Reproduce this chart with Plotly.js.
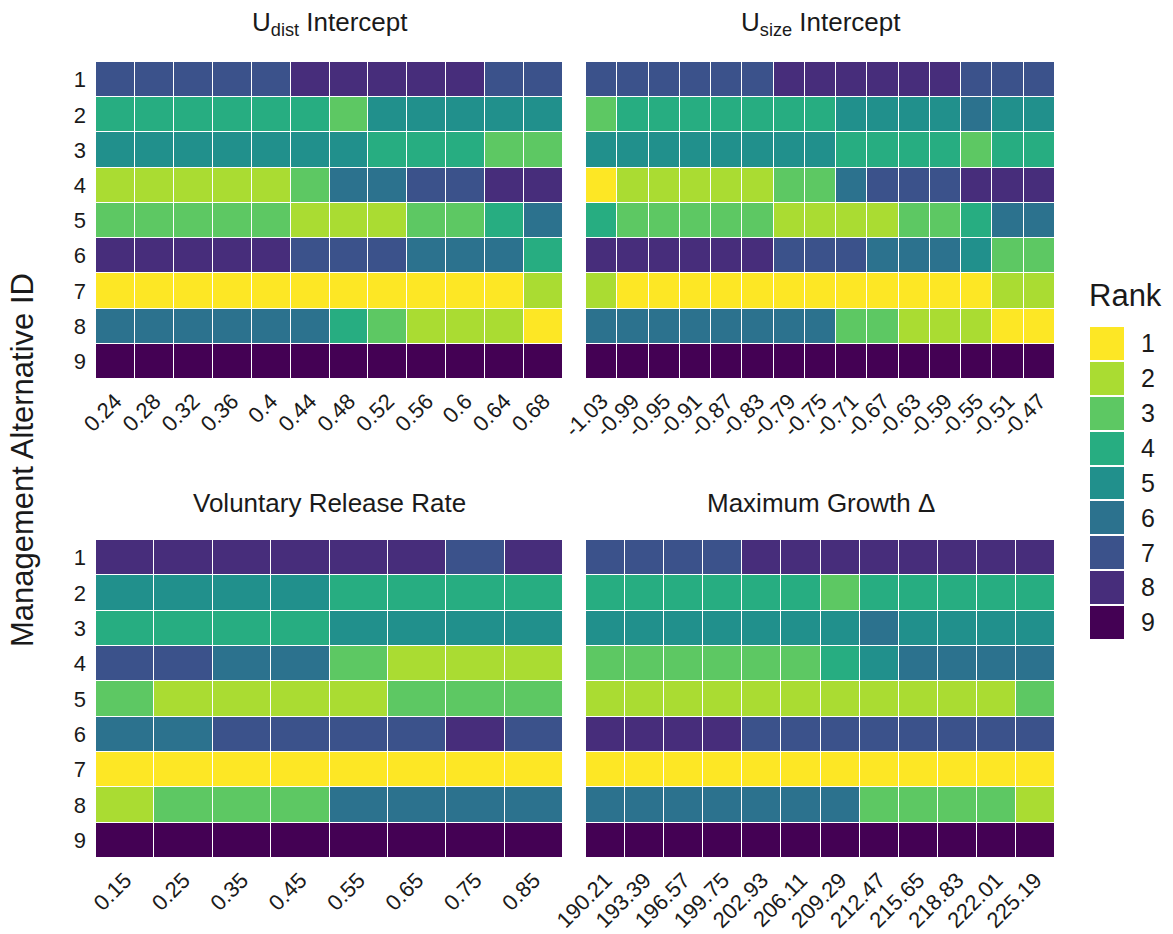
<!DOCTYPE html>
<html>
<head>
<meta charset="utf-8">
<script src="https://cdn.plot.ly/plotly-3.0.1.min.js"></script>
<style>html,body{margin:0;padding:0;background:#fff;}#chart{width:1173px;height:934px;}</style>
</head>
<body>
<div id="chart"></div>
<script>
// ---- data ----
const altIds = ["1","2","3","4","5","6","7","8","9"];
const rankLevels = [1,2,3,4,5,6,7,8,9];
const rankColors = ["#FDE725","#AADC32","#5DC863","#27AD81","#21908C","#2C728E","#3B528B","#472D7B","#440154"];

const udistX = ["0.24","0.28","0.32","0.36","0.4","0.44","0.48","0.52","0.56","0.6","0.64","0.68"];
const udistRanks = [
  [7,7,7,7,7,8,8,8,8,8,7,7],
  [4,4,4,4,4,4,3,5,5,5,5,5],
  [5,5,5,5,5,5,5,4,4,4,3,3],
  [2,2,2,2,2,3,6,6,7,7,8,8],
  [3,3,3,3,3,2,2,2,3,3,4,6],
  [8,8,8,8,8,7,7,7,6,6,6,4],
  [1,1,1,1,1,1,1,1,1,1,1,2],
  [6,6,6,6,6,6,4,3,2,2,2,1],
  [9,9,9,9,9,9,9,9,9,9,9,9]
];

const usizeX = ["-1.03","-0.99","-0.95","-0.91","-0.87","-0.83","-0.79","-0.75","-0.71","-0.67","-0.63","-0.59","-0.55","-0.51","-0.47"];
const usizeRanks = [
  [7,7,7,7,7,7,8,8,8,8,8,8,7,7,7],
  [3,4,4,4,4,4,4,4,5,5,5,5,6,5,5],
  [5,5,5,5,5,5,5,5,4,4,4,4,3,4,4],
  [1,2,2,2,2,2,3,3,6,7,7,7,8,8,8],
  [4,3,3,3,3,3,2,2,2,2,3,3,4,6,6],
  [8,8,8,8,8,8,7,7,7,6,6,6,5,3,3],
  [2,1,1,1,1,1,1,1,1,1,1,1,1,2,2],
  [6,6,6,6,6,6,6,6,3,3,2,2,2,1,1],
  [9,9,9,9,9,9,9,9,9,9,9,9,9,9,9]
];

const releaseX = ["0.15","0.25","0.35","0.45","0.55","0.65","0.75","0.85"];
const releaseRanks = [
  [8,8,8,8,8,8,7,8],
  [5,5,5,5,4,4,4,4],
  [4,4,4,4,5,5,5,5],
  [7,7,6,6,3,2,2,2],
  [3,2,2,2,2,3,3,3],
  [6,6,7,7,7,7,8,7],
  [1,1,1,1,1,1,1,1],
  [2,3,3,3,6,6,6,6],
  [9,9,9,9,9,9,9,9]
];

const growthX = ["190.21","193.39","196.57","199.75","202.93","206.11","209.29","212.47","215.65","218.83","222.01","225.19"];
const growthRanks = [
  [7,7,7,7,8,8,8,8,8,8,8,8],
  [4,4,4,4,4,4,3,4,4,4,4,4],
  [5,5,5,5,5,5,5,6,5,5,5,5],
  [3,3,3,3,3,3,4,5,6,6,6,6],
  [2,2,2,2,2,2,2,2,2,2,2,3],
  [8,8,8,8,7,7,7,7,7,7,7,7],
  [1,1,1,1,1,1,1,1,1,1,1,1],
  [6,6,6,6,6,6,6,3,3,3,3,2],
  [9,9,9,9,9,9,9,9,9,9,9,9]
];

const panelTitles = ["U<sub>dist</sub> Intercept","U<sub>size</sub> Intercept","Voluntary Release Rate","Maximum Growth Δ"];

// ---- discrete colorscale ----
const cs = [];
rankColors.forEach((c,i)=>{ cs.push([i/9,c]); cs.push([(i+1)/9,c]); });

const W = 1173, H = 934;
const FONT = "Liberation Sans, Arial, sans-serif";
const px = v => v / W;
const py = v => 1 - v / H;

const panels = [
  {x: udistX, z: udistRanks, xd:[px(96),px(563)], yd:[py(379),py(62)], showY:true},
  {x: usizeX, z: usizeRanks, xd:[px(586),px(1055)], yd:[py(379),py(62)], showY:false},
  {x: releaseX, z: releaseRanks, xd:[px(96),px(563)], yd:[py(858),py(540)], showY:true},
  {x: growthX, z: growthRanks, xd:[px(586),px(1055)], yd:[py(858),py(540)], showY:false}
];

const traces = [];
const layout = {
  width: W, height: H,
  margin: {l:0, r:0, t:0, b:0},
  paper_bgcolor: "#fff", plot_bgcolor: "#fff",
  font: {family: FONT, color: "#1a1a1a"},
  showlegend: false,
  annotations: [],
};

panels.forEach((p, i) => {
  const n = i + 1;
  const xa = n === 1 ? "x" : "x" + n;
  const ya = n === 1 ? "y" : "y" + n;
  traces.push({
    type: "heatmap",
    x: p.x, y: altIds, z: p.z,
    xaxis: xa, yaxis: ya,
    colorscale: cs, zmin: 0.5, zmax: 9.5,
    showscale: false, xgap: 1, ygap: 1,
    hovertemplate: "x=%{x}<br>ID=%{y}<br>Rank=%{z}<extra></extra>"
  });
  const xk = n === 1 ? "xaxis" : "xaxis" + n;
  const yk = n === 1 ? "yaxis" : "yaxis" + n;
  layout[xk] = {
    domain: p.xd, anchor: ya, type: "category",
    tickangle: -45, showgrid: false, zeroline: false, showline: false,
    ticks: "", ticklabelstandoff: 4,
    tickfont: {size: 22, family: FONT, color: "#1a1a1a"}
  };
  layout[yk] = {
    domain: p.yd, anchor: xa, type: "category",
    autorange: "reversed", showgrid: false, zeroline: false, showline: false,
    ticks: "", showticklabels: p.showY, ticklabelstandoff: 9,
    tickfont: {size: 22, family: FONT, color: "#1a1a1a"}
  };
  layout.annotations.push({
    text: panelTitles[i], xref: "paper", yref: "paper",
    x: (p.xd[0] + p.xd[1]) / 2, y: p.yd[1] + 20 / H,
    xanchor: "center", yanchor: "bottom", showarrow: false,
    font: {size: 26, family: FONT, color: "#1a1a1a"}
  });
});

// legend as a small heatmap keyed by rank
traces.push({
  type: "heatmap",
  x: ["Rank"], y: rankLevels.map(String), z: rankLevels.map(r => [r]),
  xaxis: "x5", yaxis: "y5",
  colorscale: cs, zmin: 0.5, zmax: 9.5,
  showscale: false, xgap: 0, ygap: 2, hoverinfo: "skip"
});
layout.xaxis5 = {domain:[px(1090), px(1124)], anchor:"y5", showticklabels:false, showgrid:false, zeroline:false, ticks:""};
layout.yaxis5 = {domain:[py(640), py(326)], anchor:"x5", side:"right", type:"category", autorange:"reversed",
  showgrid:false, zeroline:false, ticks:"", ticklabelstandoff: 16,
  tickfont:{size:25, family: FONT, color:"#1a1a1a"}};

layout.annotations.push({
  text: "Rank", xref:"paper", yref:"paper", x: px(1087), y: py(296),
  xanchor:"left", yanchor:"middle", showarrow:false,
  font:{size:31, family: FONT, color:"#1a1a1a"}
});
layout.annotations.push({
  text: "Management Alternative ID", xref:"paper", yref:"paper", x: px(23), y: py(460),
  xanchor:"center", yanchor:"middle", textangle:-90, showarrow:false,
  font:{size:31, family: FONT, color:"#1a1a1a"}
});

Plotly.newPlot("chart", traces, layout, {displayModeBar:false, staticPlot:true});
</script>
</body>
</html>
